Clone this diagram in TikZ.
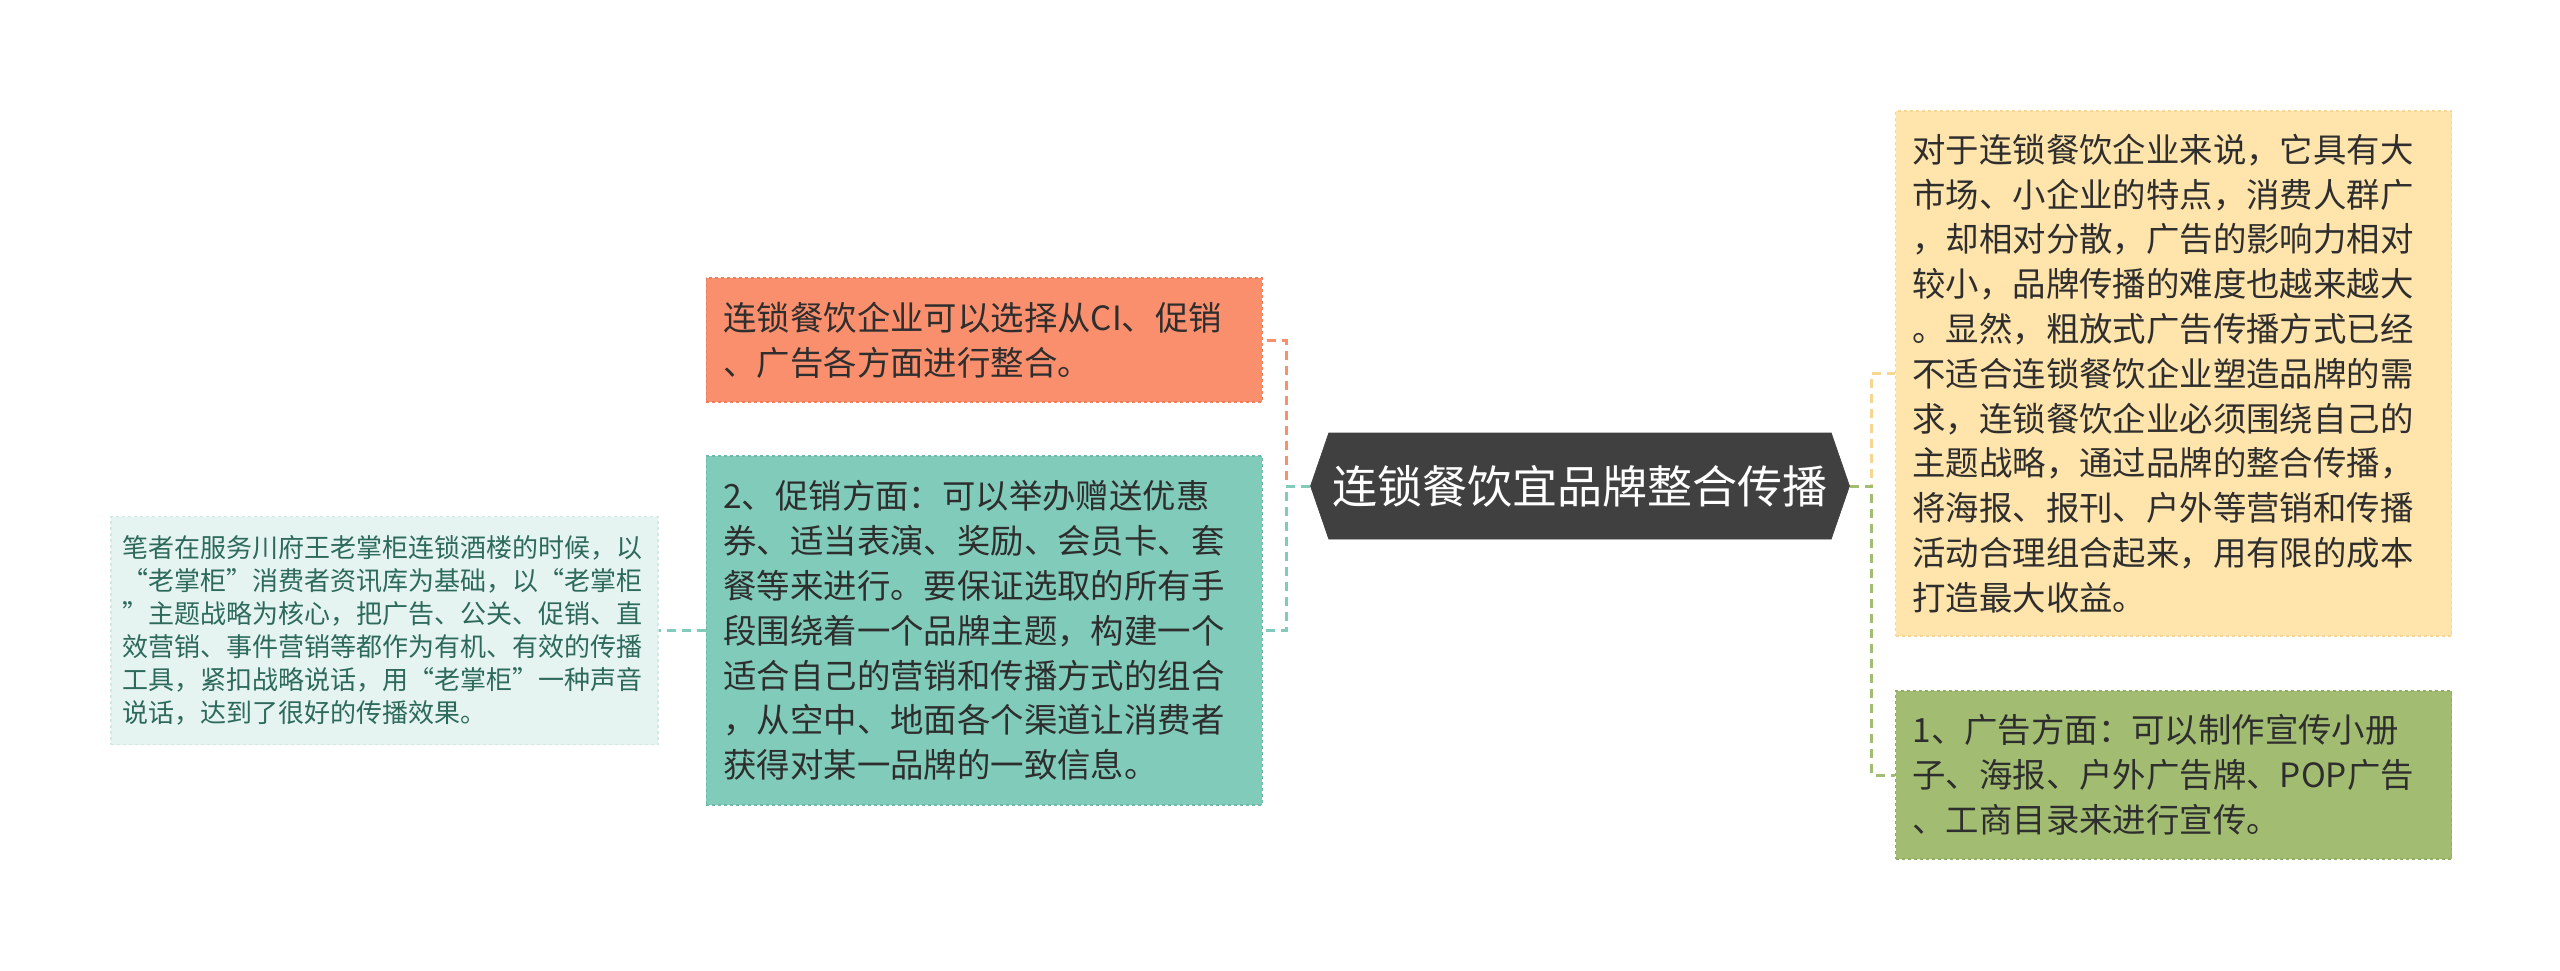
\documentclass[tikz,border=0pt]{standalone}
\usepackage{fontspec}
\setmainfont{Noto Sans CJK SC}
\usetikzlibrary{positioning,shapes.symbols}

\definecolor{hubgray}{HTML}{404040}
\definecolor{planfill}{HTML}{FFE4AB}
\definecolor{planline}{HTML}{F6D690}
\definecolor{adsfill}{HTML}{A2BD71}
\definecolor{adsline}{HTML}{92AE60}
\definecolor{integfill}{HTML}{FA8F6E}
\definecolor{integline}{HTML}{EE7E5C}
\definecolor{promofill}{HTML}{80CBBA}
\definecolor{promoline}{HTML}{6DBAA8}
\definecolor{notefill}{HTML}{E6F4F1}
\definecolor{noteline}{HTML}{D0E9E2}
\definecolor{notetext}{HTML}{2D6A5C}
\definecolor{boxtext}{HTML}{2E2E2E}

\begin{document}
\begin{tikzpicture}[x=1pt, y=-1pt, semithick]

    \tikzstyle{topic} = [rectangle, dashed, line width=1.5pt, text width=522pt, align=left, inner xsep=17pt, minimum width=556pt, text=boxtext, font=\fontsize{33.4}{44.8}\selectfont]
    \tikzstyle{link} = [line width=3pt, dash pattern=on 9pt off 6pt]

    \useasboundingbox (0,0) rectangle (2560,971);

    \node (hub) [shape=signal, signal to=west and east, signal pointer angle=142, fill=hubgray, draw=hubgray, text=white, inner xsep=3pt, minimum width=539pt, minimum height=106pt, font=\fontsize{45}{54}\selectfont] at (1580,486) {连锁餐饮宜品牌整合传播};

    \node (plan)  [topic, fill=planfill, draw=planline, minimum height=525pt, right=45pt of hub, yshift=112.5pt] {对于连锁餐饮企业来说，它具有大\\市场、小企业的特点，消费人群广\\，却相对分散，广告的影响力相对\\较小，品牌传播的难度也越来越大\\。显然，粗放式广告传播方式已经\\不适合连锁餐饮企业塑造品牌的需\\求，连锁餐饮企业必须围绕自己的\\主题战略，通过品牌的整合传播，\\将海报、报刊、户外等营销和传播\\活动合理组合起来，用有限的成本\\打造最大收益。};
    \node (ads)   [topic, fill=adsfill, draw=adsline, minimum height=168pt, right=45pt of hub, yshift=-289pt] {1、广告方面：可以制作宣传小册\\子、海报、户外广告牌、POP广告\\、工商目录来进行宣传。};

    \node (integ) [topic, fill=integfill, draw=integline, minimum height=124pt, left=47pt of hub, yshift=146pt] {连锁餐饮企业可以选择从CI、促销\\、广告各方面进行整合。};
    \node (promo) [topic, fill=promofill, draw=promoline, minimum height=349pt, left=47pt of hub, yshift=-144.5pt] {2、促销方面：可以举办赠送优惠\\券、适当表演、奖励、会员卡、套\\餐等来进行。要保证选取的所有手\\段围绕着一个品牌主题，构建一个\\适合自己的营销和传播方式的组合\\，从空中、地面各个渠道让消费者\\获得对某一品牌的一致信息。};

    \node (note)  [topic, fill=notefill, draw=noteline, text=notetext, text width=523pt, inner xsep=12pt, minimum width=547pt, minimum height=228pt, font=\fontsize{26}{33}\selectfont, left=47pt of promo] {笔者在服务川府王老掌柜连锁酒楼的时候，以\\“老掌柜”消费者资讯库为基础，以“老掌柜\\”主题战略为核心，把广告、公关、促销、直\\效营销、事件营销等都作为有机、有效的传播\\工具，紧扣战略说话，用“老掌柜”一种声音\\说话，达到了很好的传播效果。};

    \coordinate (rjoin) at ([xshift=22pt]hub.east);
    \coordinate (ljoin) at ([xshift=-24pt]hub.west);

    \path[link, draw=planline]  (hub.east) -- (rjoin) |- (plan.west);
    \path[link, draw=adsfill]   (hub.east) -- (rjoin) |- (ads.west);
    \path[link, draw=integfill] (hub.west) -- (ljoin) |- (integ.east);
    \path[link, draw=promofill] (hub.west) -- (ljoin) |- (promo.east);
    \path[link, draw=promofill] (promo.west) -- (note.east);
\end{tikzpicture}
\end{document}
